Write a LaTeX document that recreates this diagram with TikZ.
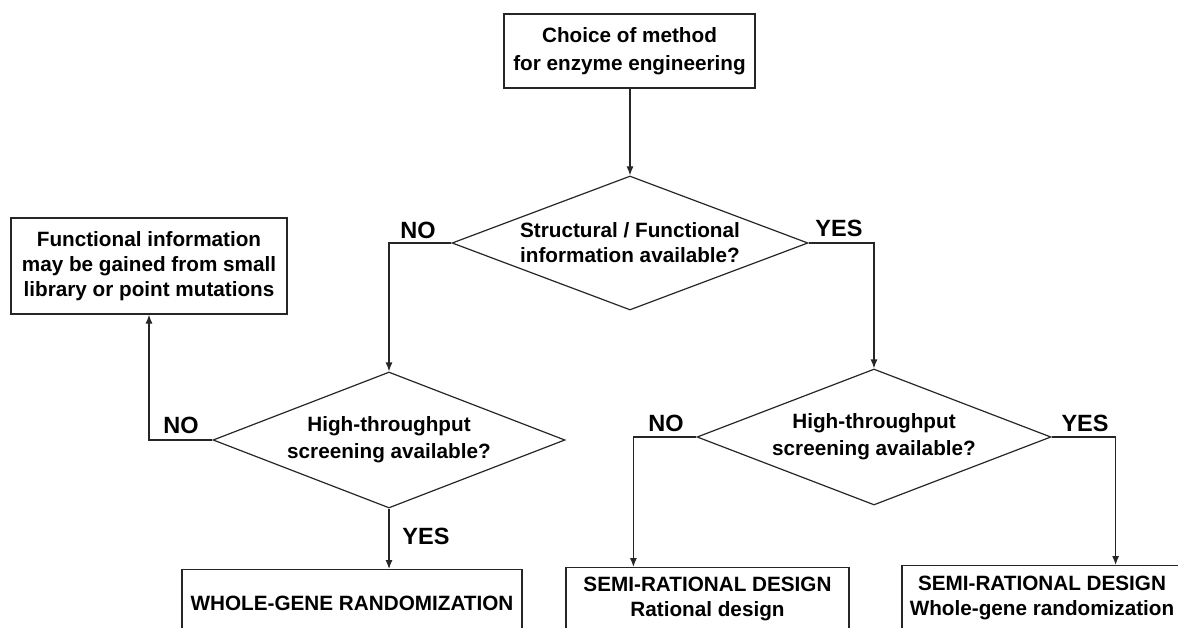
\documentclass[tikz,border=0pt]{standalone}
\usepackage{fontspec}
\setmainfont{Liberation Sans}
\usetikzlibrary{shapes.geometric,arrows.meta}
\begin{document}
\begin{tikzpicture}[x=1pt,y=-1pt,
  txt/.style={font=\bfseries\fontsize{20.7pt}{25pt}\selectfont},
  box/.style={draw=black!85, line width=1.2pt, rectangle, inner sep=0pt, align=center, txt},
  dia/.style={draw=black!85, line width=1.2pt, diamond, inner sep=0pt, align=center, txt},
  lbl/.style={font=\bfseries\fontsize{23.5pt}{26pt}\selectfont, inner sep=0pt},
  arr/.style={draw=black!85, line width=1.2pt, -{Latex[length=9pt,width=7pt]}}
]
\useasboundingbox (0,0) rectangle (1178,628);
\clip (0,0) rectangle (1178,628);

% nodes
\node[box, minimum width=251pt, minimum height=74pt,
      font=\bfseries\fontsize{20.7pt}{28pt}\selectfont] (top) at (629.5,51)
  {Choice of method\\for enzyme engineering};
\node[dia, minimum width=356pt, minimum height=134pt, aspect=2.66] (d1) at (630,243)
  {Structural / Functional\\information available?};
\node[dia, minimum width=352pt, minimum height=136pt, aspect=2.59,
      font=\bfseries\fontsize{20.7pt}{27pt}\selectfont] (d2) at (389,440)
  {High-throughput\\screening available?};
\node[dia, minimum width=354pt, minimum height=136pt, aspect=2.6,
      font=\bfseries\fontsize{20.7pt}{27pt}\selectfont] (d3) at (874,437)
  {High-throughput\\screening available?};
\node[box, minimum width=276pt, minimum height=96pt] (func) at (149,266)
  {Functional information\\may be gained from small\\library or point mutations};
\node[box, anchor=north, minimum width=340pt, text height=40.4pt, text depth=60pt] (whole) at (352,569)
  {WHOLE-GENE RANDOMIZATION};
\node[box, anchor=north, minimum width=283pt, text height=48.4pt, text depth=60pt] (semiL) at (707.5,567)
  {SEMI-RATIONAL DESIGN\\Rational design};
\node[box, anchor=north, minimum width=280pt, text height=49.4pt, text depth=60pt] (semiR) at (1042,565)
  {SEMI-RATIONAL DESIGN\\Whole-gene randomization};

% labels
\node[lbl] (noA) at (418,230) {NO};
\node[lbl] (yesA) at (839,228) {YES};
\node[lbl] (noB) at (181,425) {NO};
\node[lbl] (yesB) at (426,536) {YES};
\node[lbl] (noC) at (666,423) {NO};
\node[lbl] (yesC) at (1085,423) {YES};

% connectors
\draw[arr] (top.south -| d1.north) -- (d1.north);
\draw[arr] (d1.west) -| (d2.north);
\draw[arr] (d1.east) -| (d3.north);
\draw[arr] (d2.west) -| (func.south);
\draw[arr] (d2.south) -- (d2.south |- whole.north);
\draw[arr] (d3.west) -- ++(-63,0) coordinate (kL) -- (kL |- semiL.north);
\draw[arr] (d3.east) -- ++(64,0) coordinate (kR) -- (kR |- semiR.north);
\end{tikzpicture}
\end{document}
